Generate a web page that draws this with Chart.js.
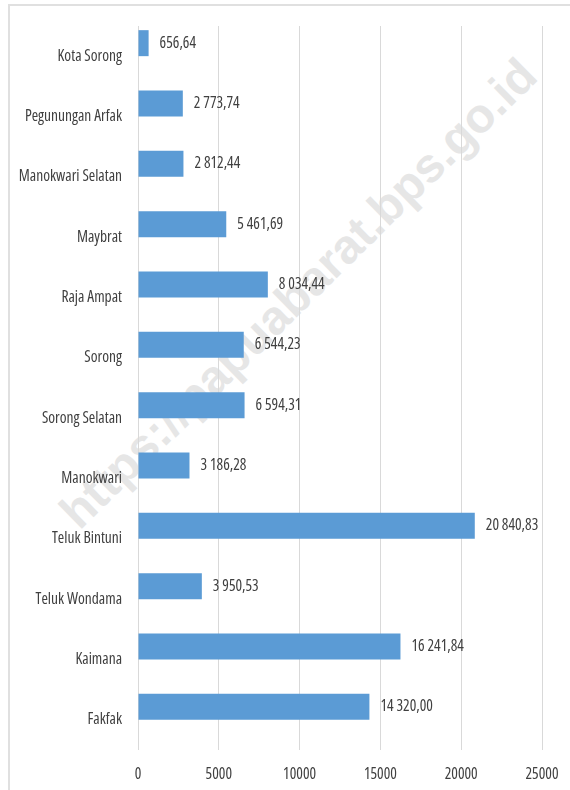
<!DOCTYPE html>
<html><head><meta charset="utf-8">
<script src="https://cdn.jsdelivr.net/npm/chart.js@4.4.1/dist/chart.umd.min.js"></script>
<style>
html,body{margin:0;padding:0;background:#fff;width:570px;height:790px;overflow:hidden;}
#wrap{position:relative;width:570px;height:790px;}
#frame{position:absolute;left:8px;top:4px;width:700px;height:900px;border-left:2px solid #e0e0e0;border-top:2px solid #e0e0e0;}
#wm{position:absolute;left:298px;top:293px;transform:translate(-50%,-50%) rotate(-44.5deg);font:bold 48px "Liberation Sans",Arial,sans-serif;color:#e6e6e6;white-space:nowrap;}
canvas{position:absolute;left:0;top:0;}
</style></head>
<body>
<div id="wrap">
  <div id="frame"></div>
  <div id="wm">https://papuabarat.bps.go.id</div>
  <canvas id="c" width="570" height="790"></canvas>
</div>
<script>
const categories = ["Kota Sorong","Pegunungan Arfak","Manokwari Selatan","Maybrat","Raja Ampat","Sorong","Sorong Selatan","Manokwari","Teluk Bintuni","Teluk Wondama","Kaimana","Fakfak"];
const values = [656.64, 2773.74, 2812.44, 5461.69, 8034.44, 6544.23, 6594.31, 3186.28, 20840.83, 3950.53, 16241.84, 14320.00];
const spacerValues = [null,null,null,null,null,null,null,null,null,null,null,null];
const xTicks = [0, 5000, 10000, 15000, 20000, 25000];

const TEXT = '#404040';

// pick a narrow font that is actually installed
function pickFont(){
  const c = document.createElement('canvas').getContext('2d');
  const sample = 'Pegunungan Arfak';
  const w = f => { c.font = '20px monospace'; c.font = f; return c.measureText(sample).width; };
  const mono = w('20px monospace');
  const cands = [
    {stretch: '', family: '"Liberation Sans Narrow"'},
    {stretch: 'condensed', family: '"Open Sans"'},
    {stretch: 'condensed', family: '"Noto Sans"'},
    {stretch: 'condensed', family: 'Roboto'},
    {stretch: '', family: '"DejaVu Sans Condensed"'}
  ];
  for (const cd of cands){
    const avail = Math.abs(w('20px ' + cd.family + ', monospace') - mono) > 0.5;
    if (!avail) continue;
    const base = w('20px ' + cd.family);
    const full = w((cd.stretch ? cd.stretch + ' ' : '') + '20px ' + cd.family);
    if (cd.stretch && full / base > 0.92) continue;
    let size = 20 * 98 / full;
    size = Math.max(12, Math.min(16, Math.round(size * 2) / 2));
    return {family: cd.family, stretch: cd.stretch || undefined, size};
  }
  return {family: '"DejaVu Sans Condensed",sans-serif', stretch: undefined, size: 13};
}
const F = pickFont();
// Chart.js puts "weight" verbatim into the CSS font string, so the stretch keyword goes there
const fontOpt = {family: F.family, size: F.size, weight: F.stretch};
const fontStr = (F.stretch ? F.stretch + ' ' : '') + F.size + 'px ' + F.family;

function fmt(v){
  const parts = v.toFixed(2).split('.');
  const intp = parts[0].replace(/\B(?=(\d{3})+(?!\d))/g, ' ');
  return intp + ',' + parts[1];
}

const labelPlugin = {
  id: 'valueLabels',
  afterDatasetsDraw(chart){
    const ctx = chart.ctx;
    const meta = chart.getDatasetMeta(0);
    ctx.save();
    ctx.font = fontStr;
    ctx.fillStyle = TEXT;
    ctx.textAlign = 'left';
    ctx.textBaseline = 'middle';
    meta.data.forEach((bar, i) => {
      ctx.fillText(fmt(values[i]), bar.x + 11, bar.y);
    });
    ctx.restore();
  }
};

new Chart(document.getElementById('c'), {
  type: 'bar',
  data: {
    labels: categories,
    datasets: [
      {data: values, backgroundColor: '#5B9BD5', categoryPercentage: 0.862, barPercentage: 1},
      {data: spacerValues, backgroundColor: '#ED7D31', categoryPercentage: 0.862, barPercentage: 1}
    ]
  },
  options: {
    indexAxis: 'y',
    responsive: false,
    animation: false,
    layout: {padding: {top: 26, right: 28, left: 0, bottom: 0}},
    plugins: {legend: {display: false}, tooltip: {enabled: false}},
    scales: {
      x: {
        min: 0, max: 25000,
        afterBuildTicks(scale){ scale.ticks = xTicks.map(v => ({value: v})); },
        ticks: {color: TEXT, font: fontOpt, padding: 15, maxRotation: 0, callback: v => String(v)},
        grid: {color: '#d9d9d9', drawTicks: false, lineWidth: 1},
        border: {display: false},
        afterFit(scale){ scale.height = 40; scale.paddingLeft = 0; scale.paddingRight = 0; }
      },
      y: {
        ticks: {color: TEXT, font: fontOpt, padding: 16},
        grid: {display: false, drawTicks: false},
        border: {display: false},
        afterFit(scale){ scale.width = 138; }
      }
    }
  },
  plugins: [labelPlugin]
});
</script>
</body></html>
